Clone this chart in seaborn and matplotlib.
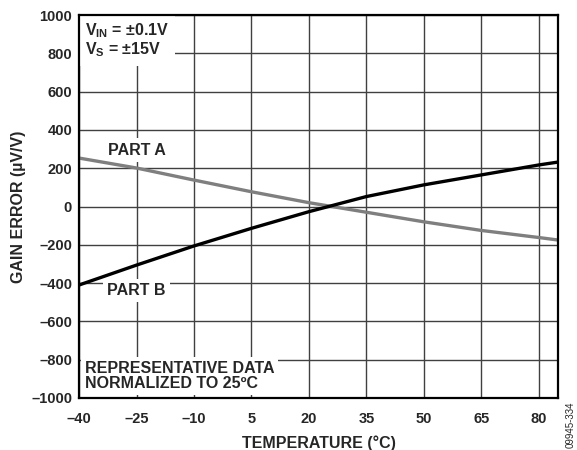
import numpy as np
import pandas as pd
import matplotlib
matplotlib.use("Agg")
import matplotlib.pyplot as plt
import seaborn as sns

# values
temperature = [-40, -25, -10, 5, 20, 35, 50, 65, 80, 85]
part_a = [253, 201, 138, 77, 20, -30, -80, -125, -162, -175]
part_b = [-410, -306, -206, -114, -27, 52, 113, 165, 217, 232]

x_ticks = [-40, -25, -10, 5, 20, 35, 50, 65, 80]
y_ticks = [-1000, -800, -600, -400, -200, 0, 200, 400, 600, 800, 1000]

df = pd.DataFrame({
    "Temperature": temperature * 2,
    "GainError": part_a + part_b,
    "Part": ["PART A"] * len(temperature) + ["PART B"] * len(temperature),
})

sns.set_style("white")
plt.rcParams["font.family"] = ["Liberation Sans", "DejaVu Sans"]
plt.rcParams["mathtext.fontset"] = "custom"
plt.rcParams["mathtext.rm"] = "Liberation Sans:bold"
plt.rcParams["mathtext.default"] = "rm"

fig = plt.figure(figsize=(5.77, 4.5), dpi=100)
ax = fig.add_axes([0.137, 0.1156, 0.830, 0.851])

sns.lineplot(data=df, x="Temperature", y="GainError", hue="Part",
             palette={"PART A": "#7f7f7f", "PART B": "#000000"},
             linewidth=2.4, legend=False, ax=ax, zorder=5)

ax.set_xlim(-40, 85)
ax.set_ylim(-1000, 1000)
ax.set_xticks(x_ticks)
ax.set_yticks(y_ticks)

def dash(v):
    return str(v).replace("-", "\u2013")

ax.set_xticklabels([dash(v) for v in x_ticks], fontsize=10.5, fontweight="bold")
ax.set_yticklabels([dash(v) for v in y_ticks], fontsize=10.5, fontweight="bold")
ax.tick_params(axis="y", length=0, pad=5)
ax.tick_params(axis="x", length=0, pad=10)

ax.grid(True, color="#404040", linewidth=1.0)
ax.set_axisbelow(True)
for s in ax.spines.values():
    s.set_color("black")
    s.set_linewidth(1.6)
    s.set_zorder(6)

ax.set_xlabel("TEMPERATURE (°C)", fontsize=11.5, fontweight="bold", labelpad=7)
ax.set_ylabel("GAIN ERROR (µV/V)", fontsize=11.5, fontweight="bold", labelpad=4)

box = dict(facecolor="white", edgecolor="none", pad=3)
ax.text(-38.5, 965, "V$_{IN}$ = ±0.1V\nV$_{S}$ = ±15V", fontsize=11.5, fontweight="bold",
        va="top", ha="left", linespacing=1.0, zorder=4,
        bbox=dict(facecolor="white", edgecolor="none", boxstyle="square,pad=0.4"))
ax.text(-25, 295, "PART A", fontsize=11.5, fontweight="bold",
        va="center", ha="center", bbox=box, zorder=4)
ax.text(-25, -440, "PART B", fontsize=11.5, fontweight="bold",
        va="center", ha="center", bbox=box, zorder=4)
ax.text(-38.5, -885, "REPRESENTATIVE DATA\nNORMALIZED TO 25ºC", fontsize=11.5,
        fontweight="bold", va="center", ha="left", linespacing=1.0,
        bbox=box, zorder=4)

fig.text(0.989, 0.005, "09945-334", rotation=90, fontsize=7,
         ha="center", va="bottom")

fig.savefig("out.png", dpi=100)
